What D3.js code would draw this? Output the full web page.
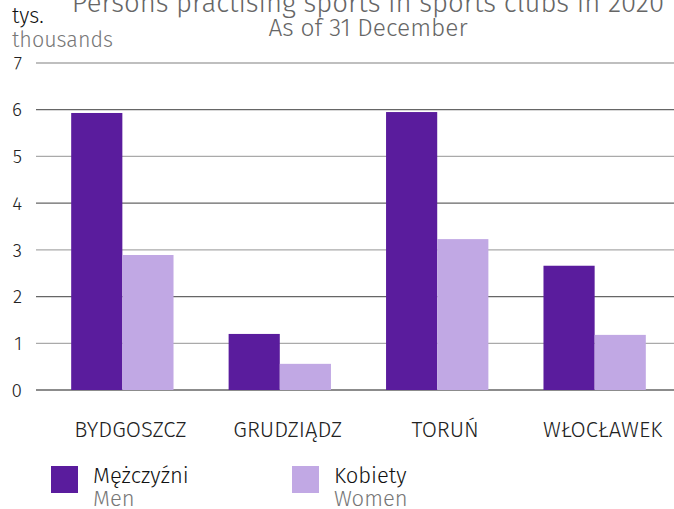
<!DOCTYPE html>
<html>
<head>
<meta charset="utf-8">
<script src="https://cdn.jsdelivr.net/npm/d3@7"></script>
<style>
  body { margin: 0; background: #fff; }
  svg { font-family: "Fira Sans", "Noto Sans", sans-serif; font-weight: 300; }
</style>
</head>
<body>
<div id="chart"></div>
<script>
var categories = ["BYDGOSZCZ", "GRUDZIĄDZ", "TORUŃ", "WŁOCŁAWEK"];
var seriesNames = ["Mężczyźni", "Kobiety"];
var seriesNamesEn = ["Men", "Women"];
var men = [5.93, 1.20, 5.95, 2.66];
var women = [2.89, 0.56, 3.23, 1.18];
var yTicks = [0, 1, 2, 3, 4, 5, 6, 7];
var colors = ["#5a1c9d", "#c1a8e4"];

var width = 674, height = 509;
var svg = d3.select("#chart").append("svg")
  .attr("width", width).attr("height", height);

// scales
var x0 = d3.scaleBand().domain(categories).range([46, 671]).paddingInner(0.35).paddingOuter(0.16);
var x1 = d3.scaleBand().domain([0, 1]).range([0, x0.bandwidth()]);
var y = d3.scaleLinear().domain([0, 7]).range([390, 63]);

// gridlines, alternating shades like the original
svg.append("g").selectAll("line")
  .data(yTicks)
  .enter().append("line")
  .attr("x1", 36).attr("x2", 674)
  .attr("y1", function(d) { return y(d); })
  .attr("y2", function(d) { return y(d); })
  .style("stroke", function(d) { return d % 2 ? "#aaa" : "#666"; })
  .style("stroke-width", "1.3px");

// y tick labels
svg.append("g").selectAll("text")
  .data(yTicks)
  .enter().append("text")
  .attr("x", 22)
  .attr("y", function(d) { return y(d); })
  .attr("dy", "0.35em")
  .attr("text-anchor", "end")
  .style("font-size", "19px")
  .style("fill", "#222")
  .text(function(d) { return d; });

// bars
var groups = svg.append("g").selectAll("g")
  .data(categories)
  .enter().append("g")
  .attr("transform", function(d) { return "translate(" + x0(d) + ",0)"; });

groups.selectAll("rect")
  .data(function(d, i) { return [men[i], women[i]]; })
  .enter().append("rect")
  .attr("x", function(d, j) { return x1(j); })
  .attr("y", function(d) { return y(d); })
  .attr("width", x1.bandwidth())
  .attr("height", function(d) { return y(0) - y(d); })
  .style("fill", function(d, j) { return colors[j]; });

// category labels (sit a little right of the bar pairs in the original)
svg.append("g").selectAll("text")
  .data(categories)
  .enter().append("text")
  .attr("x", function(d) { return x0(d) + x0.bandwidth() / 2 + 8; })
  .attr("y", 437)
  .attr("text-anchor", "middle")
  .style("font-size", "22px")
  .style("fill", "#222")
  .text(function(d) { return d; });

// titles
svg.append("text").attr("x", 368).attr("y", 12).attr("text-anchor", "middle")
  .style("font-size", "27.5px").style("fill", "#666")
  .text("Persons practising sports in sports clubs in 2020");
svg.append("text").attr("x", 368).attr("y", 36).attr("text-anchor", "middle")
  .style("font-size", "24.5px").style("fill", "#666")
  .text("As of 31 December");

// unit label
svg.append("text").attr("x", 12).attr("y", 23)
  .style("font-size", "21.5px").style("fill", "#111").text("tys.");
svg.append("text").attr("x", 12).attr("y", 47)
  .style("font-size", "21.5px").style("fill", "#777").text("thousands");

// legend
var legendX = [51, 292];
var legend = svg.append("g").selectAll("g")
  .data(seriesNames)
  .enter().append("g")
  .attr("transform", function(d, i) { return "translate(" + legendX[i] + ",466)"; });

legend.append("rect")
  .attr("width", 27).attr("height", 27)
  .style("fill", function(d, i) { return colors[i]; });
legend.append("text")
  .attr("x", 42).attr("y", 17)
  .style("font-size", "22px").style("fill", "#111")
  .text(function(d) { return d; });
legend.append("text")
  .attr("x", 42).attr("y", 40)
  .style("font-size", "22px").style("fill", "#777")
  .text(function(d, i) { return seriesNamesEn[i]; });
</script>
</body>
</html>
